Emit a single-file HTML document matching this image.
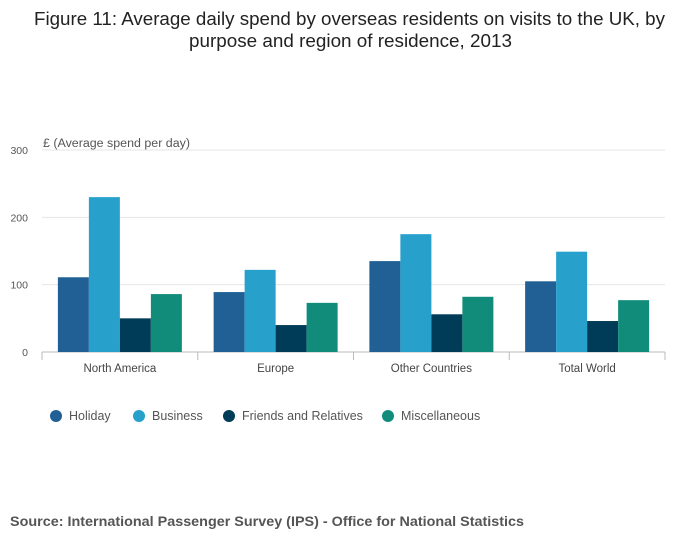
<!DOCTYPE html>
<html><head><meta charset="utf-8"><style>
body{margin:0;background:#fff;font-family:"Liberation Sans",sans-serif;}
svg text{font-family:"Liberation Sans",sans-serif;}
</style></head><body>
<svg id="chart" width="700" height="549">
<text x="34" y="25" font-size="18" fill="#222" textLength="631" lengthAdjust="spacingAndGlyphs">Figure 11: Average daily spend by overseas residents on visits to the UK, by</text>
<text x="189" y="47" font-size="18" fill="#222" textLength="323" lengthAdjust="spacingAndGlyphs">purpose and region of residence, 2013</text>
<text x="43" y="147" font-size="11.5" fill="#555" textLength="147" lengthAdjust="spacingAndGlyphs">£ (Average spend per day)</text>
<g id="grid"></g><g id="bars"></g><g id="xaxis"></g><g id="legend"></g>
<text x="10" y="526" font-size="14" font-weight="bold" fill="#555" textLength="514" lengthAdjust="spacingAndGlyphs">Source: International Passenger Survey (IPS) - Office for National Statistics</text>
</svg>
<script>
const categories=["North America","Europe","Other Countries","Total World"];
const seriesNames=["Holiday","Business","Friends and Relatives","Miscellaneous"];
const holiday=[111,89,135,105];
const business=[230,122,175,149];
const friends=[50,40,56,46];
const misc=[86,73,82,77];
const yTicks=[0,100,200,300];
const series=[holiday,business,friends,misc];
const colors=["#206095","#27a0cc","#003c57","#118c7b"];
const NS="http://www.w3.org/2000/svg";
const x0=42,x1=665,y0=352,y1=150,yMax=300;
const y=v=>y0-(v/yMax)*(y0-y1);
const cw=(x1-x0)/categories.length;
const bw=31,pad=(cw-bw*4)/2;
function mk(t,a,p){const e=document.createElementNS(NS,t);for(const k in a)e.setAttribute(k,a[k]);p.appendChild(e);return e;}
const grid=document.getElementById('grid');
yTicks.forEach(t=>{
 const l=mk('line',{x1:x0,x2:x1,y1:y(t),y2:y(t),stroke:t===0?'#bbb':'#e4e4e4'},grid);
 
 
 const tx=mk('text',{x:28,y:y(t)+4,'text-anchor':'end','font-size':10.5,fill:'#555'},grid);tx.textContent=t;
 
 
});
const bars=document.getElementById('bars'),xa=document.getElementById('xaxis');
categories.forEach((c,i)=>{
 const cx=x0+i*cw;
 series.forEach((s,j)=>{
  const r=mk('rect',{x:cx+pad+j*bw,y:y(s[i]),width:bw,height:y0-y(s[i]),fill:colors[j]},bars);
  
  
 });
 const tk=mk('line',{x1:cx,x2:cx,y1:y0,y2:y0+8,stroke:'#bbb'},xa);
 
 
 const tx=mk('text',{x:cx+cw/2,y:y0+20,'text-anchor':'middle','font-size':11.5,fill:'#444'},xa);tx.textContent=c;
 
 
});
const te=mk('line',{x1:x1,x2:x1,y1:y0,y2:y0+8,stroke:'#bbb'},xa);


const lg=document.getElementById('legend');
const lx=[56,139,229,388];
seriesNames.forEach((n,j)=>{
 const g=mk('g',{},lg);
 
 
 mk('circle',{cx:lx[j],cy:416,r:6,fill:colors[j]},g);
 const t=mk('text',{x:lx[j]+13,y:420,'font-size':12.5,fill:'#555'},g);t.textContent=n;
});
</script>
</body></html>
